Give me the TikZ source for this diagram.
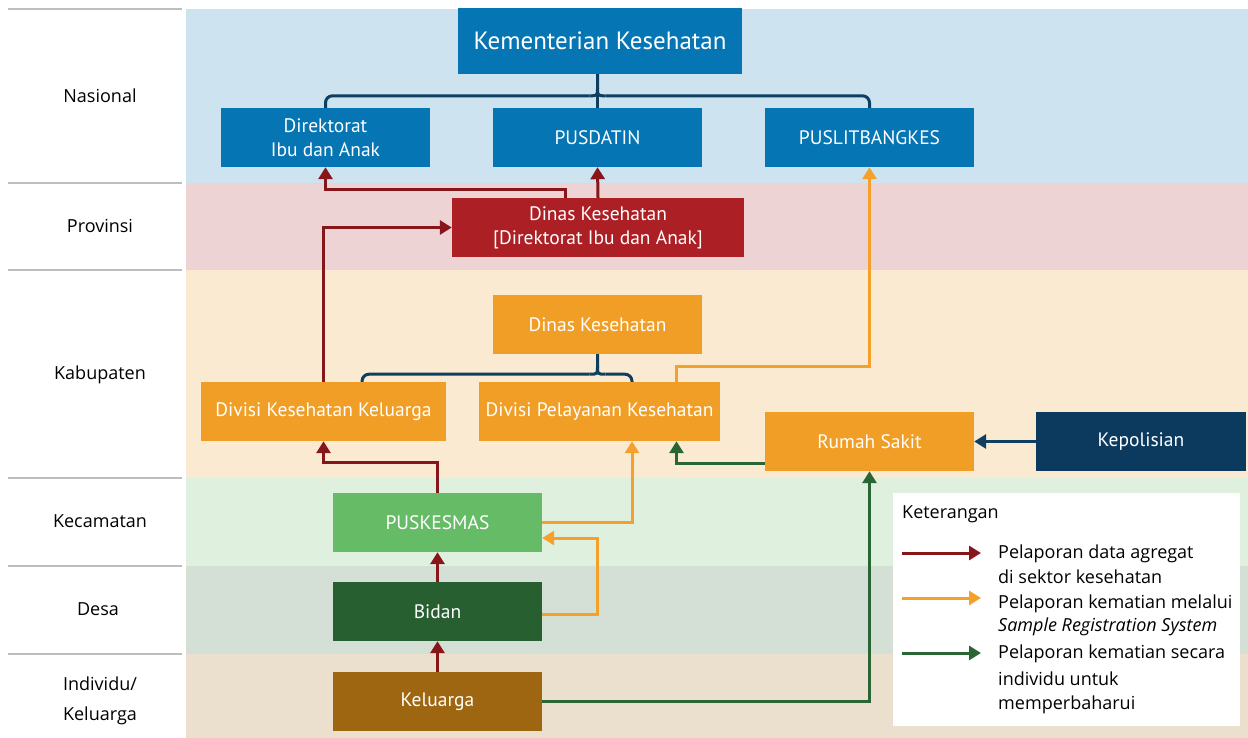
\documentclass[tikz,border=0pt]{standalone}
\usepackage{fontspec}
\setmainfont{PT Sans}
\newfontfamily\lgfont{Open Sans}
\usetikzlibrary{arrows.meta,calc}
\definecolor{bgNas}{HTML}{CDE3EF}
\definecolor{bgProv}{HTML}{EED3D5}
\definecolor{bgKab}{HTML}{FBEAD2}
\definecolor{bgKec}{HTML}{DFF0DE}
\definecolor{bgDesa}{HTML}{D4DFD5}
\definecolor{bgInd}{HTML}{EBE0CD}
\definecolor{cBlue}{HTML}{0575B3}
\definecolor{cDRed}{HTML}{AC1F25}
\definecolor{cOrange}{HTML}{F19E26}
\definecolor{cLGreen}{HTML}{66BB66}
\definecolor{cDGreen}{HTML}{285F30}
\definecolor{cBrown}{HTML}{9E6611}
\definecolor{cNavy}{HTML}{0B3A5E}
\definecolor{lRed}{HTML}{87161B}
\definecolor{lOrange}{HTML}{F4A12B}
\definecolor{lGreen}{HTML}{2A6633}
\definecolor{lNavy}{HTML}{0E3E60}
\definecolor{sepGrey}{HTML}{BDBDBD}
\tikzset{
  box/.style={rectangle,inner sep=0pt,minimum width=209pt,minimum height=59pt,text=white,align=center,font=\fontsize{19.5}{24}\selectfont},
  conn/.style={line width=3pt,-{Triangle[width=14pt,length=12pt]}},
  redA/.style={conn,draw=lRed,color=lRed},
  orA/.style={conn,draw=lOrange,color=lOrange},
  grA/.style={conn,draw=lGreen,color=lGreen},
  nvA/.style={conn,draw=lNavy,color=lNavy},
  brk/.style={line width=3pt,draw=lNavy},
  lvl/.style={font=\lgfont\fontsize{18}{22}\selectfont,text=black},
  lgtext/.style={font=\lgfont\fontsize{18}{22}\selectfont,text=black,anchor=west,inner sep=0pt},
  sep/.style={draw=sepGrey,line width=1.5pt}
}
\begin{document}
\begin{tikzpicture}[x=1pt,y=-1pt]
\useasboundingbox (0,0) rectangle (1248,738);
% bands
\fill[bgNas] (186,9) rectangle (1248,183);
\fill[bgProv] (186,183) rectangle (1248,270);
\fill[bgKab] (186,270) rectangle (1248,478);
\fill[bgKec] (186,478) rectangle (1248,566);
\fill[bgDesa] (186,566) rectangle (1248,654);
\fill[bgInd] (186,654) rectangle (1248,738);
% separators
\foreach \yy in {9,183,270,478,566,654} \draw[sep] (8,\yy) -- (182,\yy);
% level labels
\node[lvl] (lNas) at (100,96) {Nasional};
\node[lvl] (lProv) at (100,226) {Provinsi};
\node[lvl] (lKab) at (100,375) {Kabupaten};
\node[lvl] (lKec) at (100,521) {Kecamatan};
\node[lvl] (lDesa) at (98,609) {Desa};
\node[lvl] (lInd1) at (100,684) {Individu/};
\node[lvl] (lInd2) at (100,716) {Keluarga};
% nodes
\node[box,fill=cBlue,minimum width=284pt,minimum height=66pt,font=\fontsize{25}{29}\selectfont] (kem) at (600,41) {Kementerian Kesehatan};
\node[box,fill=cBlue] (dir) at (325.5,137.5) {Direktorat\\Ibu dan Anak};
\node[box,fill=cBlue] (pus) at (597.5,137.5) {PUSDATIN};
\node[box,fill=cBlue] (puslit) at (869.5,137.5) {PUSLITBANGKES};
\node[box,fill=cDRed,minimum width=292pt] (dinasP) at (598,227.5) {Dinas Kesehatan\\{[}Direktorat Ibu dan Anak{]}};
\node[box,fill=cOrange] (dinasK) at (597.5,324.5) {Dinas Kesehatan};
\node[box,fill=cOrange,minimum width=245pt] (dkk) at (323.5,411.5) {Divisi Kesehatan Keluarga};
\node[box,fill=cOrange,minimum width=241pt] (dpk) at (599.5,411.5) {Divisi Pelayanan Kesehatan};
\node[box,fill=cOrange] (rs) at (869.5,441.5) {Rumah Sakit};
\node[box,fill=cNavy,minimum width=210pt] (pol) at (1141,441.5) {Kepolisian};
\node[box,fill=cLGreen] (pkm) at (437.5,522.5) {PUSKESMAS};
\node[box,fill=cDGreen] (bidan) at (437.5,611.5) {Bidan};
\node[box,fill=cBrown] (kel) at (437.5,701.5) {Keluarga};
% brackets
\coordinate (t1) at ($(pus.north)+(0,-12)$);
\draw[brk,rounded corners=7pt] (dir.north) |- ($(t1)+(-8,0)$);
\draw[brk] ($(t1)+(-8,0)$) .. controls (t1) .. ($(t1)+(0,-8)$) -- (t1 |- kem.south);
\draw[brk,rounded corners=7pt] (puslit.north) |- ($(t1)+(8,0)$);
\draw[brk] ($(t1)+(8,0)$) .. controls (t1) .. ($(t1)+(0,-8)$);
\draw[brk] (t1) -- (pus.north);
\coordinate (t2) at ($(dinasK.south)+(0,20)$);
\draw[brk,rounded corners=7pt] ($(dkk.north)+(38.5,0)$) |- ($(t2)+(-8,0)$);
\draw[brk] ($(t2)+(-8,0)$) .. controls (t2) .. ($(t2)+(0,-8)$) -- (dinasK.south);
\draw[brk,rounded corners=7pt] ($(dpk.north)+(32.5,0)$) |- ($(t2)+(8,0)$);
\draw[brk] ($(t2)+(8,0)$) .. controls (t2) .. ($(t2)+(0,-8)$);
% connectors
\draw[redA] ($(dinasP.north)+(-33,0)$) -- ++(0,-8) -| (dir.south);
\draw[redA] (dinasP.north) -- (pus.south);
\draw[redA] (dkk.north) |- (dinasP.west);
\draw[orA] ($(dpk.north)+(77,0)$) -- ++(0,-15) -| (puslit.south);
\draw[redA] (pkm.north) -- ++(0,-30) -| (dkk.south);
\draw[orA] (pkm.east) -| ($(dpk.south)+(32.5,0)$);
\draw[orA] ($(bidan.east)+(0,2.5)$) -- ++(55,0) |- ($(pkm.east)+(0,15.5)$);
\draw[redA] (bidan.north) -- (pkm.south);
\draw[redA] (kel.north) -- (bidan.south);
\draw[grA] (kel.east) -| (rs.south);
\draw[grA] ($(rs.west)+(0,21.5)$) -| ($(dpk.south)+(77,0)$);
\draw[nvA] (pol.west) -- (rs.east);
% legend
\node[rectangle,fill=white,minimum width=347pt,minimum height=233pt,inner sep=0pt] (lg) at (1066.5,609.5) {};
\node[lgtext] (lgT) at (902,514) {Keterangan};
\coordinate (la1) at (902,553);
\coordinate (la2) at (902,598);
\coordinate (la3) at (902,653);
\draw[redA] (la1) -- ++(79,0);
\draw[orA] (la2) -- ++(79,0);
\draw[grA] (la3) -- ++(79,0);
\node[lgtext] (lt1a) at (998,554) {Pelaporan data agregat};
\node[lgtext] (lt1b) at (998,577) {di sektor kesehatan};
\node[lgtext] (lt2a) at (998,604) {Pelaporan kematian melalui};
\node[lgtext] (lt2b) at (998,627) {\itshape Sample Registration System};
\node[lgtext] (lt3a) at (998,654) {Pelaporan kematian secara};
\node[lgtext] (lt3b) at (998,679) {individu untuk};
\node[lgtext] (lt3c) at (998,705) {memperbaharui};
\end{tikzpicture}
\end{document}
